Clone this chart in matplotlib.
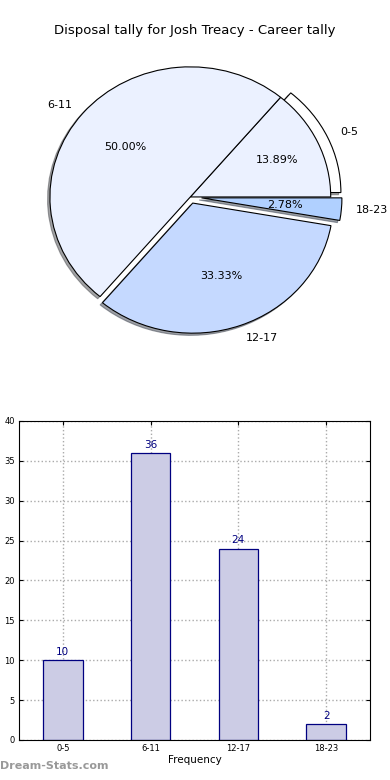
"""Disposal tally pie + frequency bar chart for one player."""
import matplotlib
matplotlib.use("Agg")
import matplotlib.pyplot as plt

labels = ["0-5", "6-11", "12-17", "18-23"]
counts = [10, 36, 24, 2]
pie_colors = ["#ffffff", "#ebf1ff", "#c5d9ff", "#b0d0ff"]
explode = [0.08, 0.0, 0.05, 0.08]
y_ticks = [0, 5, 10, 15, 20, 25, 30, 35, 40]

fig = plt.figure(figsize=(3.9, 7.8), dpi=100)
fig.text(0.5, 0.961, "Disposal tally for Josh Treacy - Career tally",
         ha="center", va="center", fontsize=9.5)

# Pie (old style, not forced to a circle)
ax = fig.add_axes([0.038, 0.539, 0.9, 0.417])
wedges, texts, autotexts = ax.pie(
    counts, labels=labels, colors=pie_colors, explode=explode,
    autopct="%1.2f%%", shadow={"ox": -0.012, "oy": -0.012},
    startangle=0,
    wedgeprops={"linewidth": 0.8, "edgecolor": "black"},
    textprops={"fontsize": 8},
)
# the 0-5 slice also shows an unexploded light fill inside the white rim
inner, _ = ax.pie(counts[:1] + [sum(counts[1:])], colors=[pie_colors[1], "none"],
                  startangle=0, wedgeprops={"linewidth": 0.8})
inner[0].set_edgecolor("black")
inner[1].set_edgecolor("none")
inner[0].set_zorder(wedges[1].get_zorder())
for w in wedges[1:]:
    w.set_zorder(w.get_zorder() + 0.1)
for t in autotexts:
    t.set_zorder(5)
ax.set_aspect("auto")
ax.set_xlim(-1.25, 1.25)
ax.set_ylim(-1.25, 1.25)

# Bars
bx = fig.add_axes([0.0487, 0.0513, 0.9, 0.409])
pos = list(range(len(labels)))
bars = bx.bar(pos, counts, width=0.45, color="#ccccE5", edgecolor="navy",
              linewidth=0.9, zorder=2)
for b, v in zip(bars, counts):
    bx.text(b.get_x() + b.get_width() / 2, v + 0.4, str(v), ha="center",
            va="bottom", color="navy", fontsize=7.5)
bx.set_xlim(-0.5, 3.5)
bx.set_ylim(0, 40)
bx.set_xticks(pos)
bx.set_xticklabels(labels)
bx.set_yticks(y_ticks)
bx.tick_params(labelsize=6, direction="in", top=True, right=True,
               length=3, pad=3)
bx.grid(True, linestyle=":", color="#aaaaaa", linewidth=1.0, zorder=0)
bx.set_axisbelow(True)
bx.set_xlabel("Frequency", fontsize=7.5, labelpad=1)

fig.text(0.0, 0.012, "Dream-Stats.com", fontsize=8, color="#999999",
         fontweight="bold", ha="left", va="bottom")

fig.savefig("out.png", dpi=100)
